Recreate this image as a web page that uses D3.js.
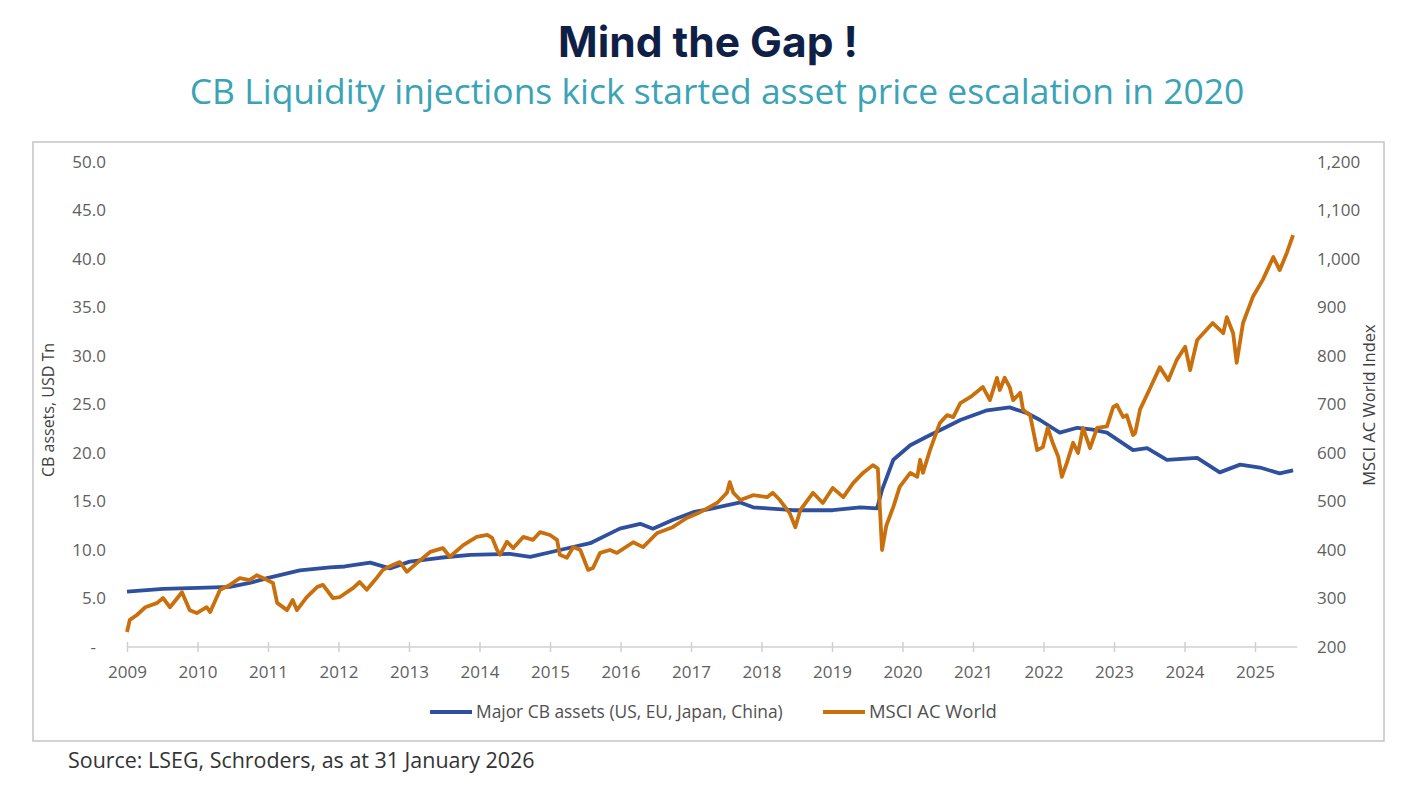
<!DOCTYPE html>
<html>
<head>
<meta charset="utf-8">
<script src="https://cdn.jsdelivr.net/npm/d3@7/dist/d3.min.js"></script>
<style>
  body { margin: 0; background: #fff; }
  svg { display: block; }
</style>
</head>
<body>
<div id="chart"></div>
<script>
// values (time in fractional years)
var cbYears = [2009.00, 2009.51, 2010.01, 2010.46, 2010.74, 2010.99, 2011.45, 2011.88, 2012.09, 2012.45,
	2012.73, 2013.01, 2013.44, 2013.87, 2014.43, 2014.72, 2015.14, 2015.57, 2015.99, 2016.28,
	2016.46, 2016.74, 2017.03, 2017.31, 2017.70, 2017.88, 2018.08, 2018.45, 2019.01, 2019.40,
	2019.64, 2019.71, 2019.87, 2020.11, 2020.35, 2020.63, 2020.82, 2021.20, 2021.52, 2021.77,
	2021.95, 2022.23, 2022.48, 2022.70, 2022.90, 2023.27, 2023.47, 2023.75, 2024.18, 2024.50,
	2024.79, 2025.07, 2025.35, 2025.54];
var cbValues = [5.7, 6.0, 6.1, 6.2, 6.6, 7.1, 7.9, 8.2, 8.3, 8.7,
	8.1, 8.8, 9.2, 9.5, 9.6, 9.3, 10.0, 10.7, 12.2, 12.7,
	12.2, 13.1, 13.9, 14.3, 14.9, 14.4, 14.3, 14.1, 14.1, 14.4,
	14.3, 16.2, 19.3, 20.8, 21.7, 22.7, 23.4, 24.4, 24.7, 24.1,
	23.4, 22.1, 22.6, 22.4, 22.1, 20.3, 20.5, 19.3, 19.5, 18.0,
	18.8, 18.5, 17.9, 18.2];

var msciYears = [2009.00, 2009.04, 2009.14, 2009.26, 2009.43, 2009.51, 2009.61, 2009.78, 2009.89, 2009.99,
	2010.13, 2010.18, 2010.32, 2010.46, 2010.60, 2010.74, 2010.84, 2010.99, 2011.07, 2011.13,
	2011.27, 2011.35, 2011.41, 2011.55, 2011.70, 2011.78, 2011.92, 2012.02, 2012.21, 2012.30,
	2012.40, 2012.55, 2012.63, 2012.77, 2012.87, 2012.97, 2013.11, 2013.30, 2013.48, 2013.58,
	2013.77, 2013.96, 2014.11, 2014.18, 2014.25, 2014.29, 2014.39, 2014.48, 2014.62, 2014.76,
	2014.86, 2015.00, 2015.10, 2015.14, 2015.24, 2015.33, 2015.43, 2015.54, 2015.61, 2015.71,
	2015.85, 2015.95, 2016.18, 2016.32, 2016.52, 2016.74, 2016.94, 2017.13, 2017.37, 2017.51,
	2017.55, 2017.60, 2017.70, 2017.88, 2018.08, 2018.16, 2018.26, 2018.40, 2018.48, 2018.55,
	2018.73, 2018.87, 2019.01, 2019.16, 2019.30, 2019.44, 2019.58, 2019.65, 2019.71, 2019.77,
	2019.87, 2019.96, 2020.11, 2020.21, 2020.25, 2020.29, 2020.39, 2020.53, 2020.63, 2020.72,
	2020.82, 2020.96, 2021.14, 2021.24, 2021.34, 2021.38, 2021.45, 2021.52, 2021.57, 2021.67,
	2021.71, 2021.81, 2021.91, 2021.99, 2022.06, 2022.13, 2022.21, 2022.26, 2022.33, 2022.42,
	2022.49, 2022.56, 2022.66, 2022.76, 2022.90, 2022.99, 2023.04, 2023.13, 2023.18, 2023.27,
	2023.30, 2023.37, 2023.51, 2023.65, 2023.77, 2023.89, 2024.01, 2024.08, 2024.18, 2024.40,
	2024.55, 2024.60, 2024.69, 2024.74, 2024.83, 2024.97, 2025.11, 2025.26, 2025.35, 2025.45,
	2025.54];
var msciValues = [231, 256, 266, 282, 291, 301, 282, 313, 276, 270,
	282, 272, 318, 328, 342, 338, 348, 338, 332, 291,
	276, 297, 276, 303, 324, 328, 301, 303, 322, 334,
	318, 344, 359, 369, 375, 355, 373, 396, 404, 386,
	410, 427, 431, 425, 400, 390, 417, 404, 427, 421,
	437, 431, 421, 390, 384, 406, 400, 359, 363, 394,
	400, 394, 416, 406, 435, 447, 466, 478, 497, 518,
	540, 518, 503, 513, 509, 518, 503, 476, 447, 482,
	518, 497, 528, 509, 538, 559, 575, 568, 400, 450,
	489, 530, 559, 551, 586, 559, 606, 662, 678, 674,
	703, 715, 736, 709, 755, 730, 755, 736, 709, 724,
	689, 678, 606, 612, 652, 621, 592, 551, 579, 621,
	600, 652, 610, 652, 655, 695, 699, 674, 678, 637,
	641, 690, 733, 777, 750, 792, 819, 771, 833, 868,
	847, 880, 847, 786, 868, 922, 957, 1004, 977, 1012,
	1049];

var leftTicks = [0, 5, 10, 15, 20, 25, 30, 35, 40, 45, 50];
var rightTicks = [200, 300, 400, 500, 600, 700, 800, 900, 1000, 1100, 1200];
var yearTicks = [2009, 2010, 2011, 2012, 2013, 2014, 2015, 2016, 2017, 2018, 2019, 2020, 2021, 2022, 2023, 2024, 2025];
var seriesNames = ["Major CB assets (US, EU, Japan, China)", "MSCI AC World"];

var width = 1411,
	height = 786;

var blue = "#2f4f9f",
	orange = "#c96f0c",
	tickColor = "#606060",
	font = "'Open Sans', sans-serif";

var svg = d3.select("#chart").append("svg")
	.attr("width", width)
	.attr("height", height);

svg.append("rect")
	.attr("width", width)
	.attr("height", height)
	.attr("fill", "#fff");

// scale a text node so that it spans a given width
function fitWidth(sel, w) {
	var size = parseFloat(sel.attr("font-size"));
	var len = sel.node().getComputedTextLength();
	sel.attr("font-size", size * w / len);
}

// titles
var title = svg.append("text")
	.attr("x", 708)
	.attr("y", 57)
	.attr("text-anchor", "middle")
	.attr("font-family", "Inter, sans-serif")
	.attr("font-weight", 700)
	.attr("font-size", 34)
	.attr("fill", "#0f1f45")
	.text("Mind the Gap !");
fitWidth(title, 300);

var subtitle = svg.append("text")
	.attr("x", 717)
	.attr("y", 104)
	.attr("text-anchor", "middle")
	.attr("font-family", font)
	.attr("font-size", 32)
	.attr("fill", "#3aa3b5")
	.text("CB Liquidity injections kick started asset price escalation in 2020");
fitWidth(subtitle, 1055);

// chart frame
svg.append("rect")
	.attr("x", 33)
	.attr("y", 142)
	.attr("width", 1351)
	.attr("height", 599)
	.attr("fill", "#fff")
	.attr("stroke", "#c4c4c4")
	.attr("stroke-width", 1.5);

var x = d3.scaleLinear().domain([2009, 2025]).range([127, 1255]);
var yLeft = d3.scaleLinear().domain([0, 50]).range([647, 162]);
var yRight = d3.scaleLinear().domain([200, 1200]).range([647, 162]);

// left axis
var leftAxis = svg.append("g")
	.attr("transform", "translate(106,0)")
	.call(d3.axisLeft(yLeft)
		.tickValues(leftTicks)
		.tickSize(0)
		.tickPadding(0)
		.tickFormat(function(d) { return d === 0 ? "-" : d3.format(".1f")(d); }));
leftAxis.select(".domain").remove();
leftAxis.selectAll(".tick text")
	.filter(function(d) { return d === 0; })
	.attr("dx", -10);

// right axis
var rightAxis = svg.append("g")
	.attr("transform", "translate(1317,0)")
	.call(d3.axisRight(yRight)
		.tickValues(rightTicks)
		.tickSize(0)
		.tickPadding(0)
		.tickFormat(d3.format(",")));
rightAxis.select(".domain").remove();

// x axis
var xAxis = svg.append("g")
	.attr("transform", "translate(0,647)")
	.call(d3.axisBottom(x)
		.tickValues(yearTicks)
		.tickSizeInner(5)
		.tickSizeOuter(0)
		.tickPadding(14)
		.tickFormat(d3.format("d")));
xAxis.select(".domain")
	.attr("d", "M" + x(2009) + ",0H" + x(2025.6))
	.attr("stroke", "#d0d0d0")
	.attr("stroke-width", 1.5);
xAxis.selectAll(".tick line")
	.attr("y1", -5)
	.attr("stroke", "#d0d0d0")
	.attr("stroke-width", 1.5);

svg.selectAll(".tick text")
	.attr("font-family", font)
	.attr("font-size", 17)
	.attr("fill", tickColor);

// axis titles
svg.append("text")
	.attr("transform", "translate(54,410) rotate(-90)")
	.attr("text-anchor", "middle")
	.attr("font-family", font)
	.attr("font-size", 16)
	.attr("fill", "#404040")
	.text("CB assets, USD Tn");

svg.append("text")
	.attr("transform", "translate(1375,405) rotate(-90)")
	.attr("text-anchor", "middle")
	.attr("font-family", font)
	.attr("font-size", 16.5)
	.attr("fill", "#404040")
	.text("MSCI AC World Index");

// lines
var cbLine = d3.line()
	.x(function(d, i) { return x(cbYears[i]); })
	.y(function(d) { return yLeft(d); });

var msciLine = d3.line()
	.x(function(d, i) { return x(msciYears[i]); })
	.y(function(d) { return yRight(d); });

svg.append("path")
	.datum(cbValues)
	.attr("d", cbLine)
	.attr("fill", "none")
	.attr("stroke", blue)
	.attr("stroke-width", 3.8)
	.attr("stroke-linejoin", "round");

svg.append("path")
	.datum(msciValues)
	.attr("d", msciLine)
	.attr("fill", "none")
	.attr("stroke", orange)
	.attr("stroke-width", 3.8)
	.attr("stroke-linejoin", "round");

// legend
var legendWidths = [307, 128];
var legend = svg.append("g")
	.selectAll("g")
	.data(seriesNames)
	.enter().append("g")
	.attr("transform", function(d, i) { return "translate(" + [430, 823][i] + ",712)"; });

legend.append("line")
	.attr("x1", 0)
	.attr("x2", 42)
	.attr("stroke", function(d, i) { return [blue, orange][i]; })
	.attr("stroke-width", 3.8);

legend.append("text")
	.attr("x", 46)
	.attr("dy", "0.35em")
	.attr("font-family", font)
	.attr("font-size", 16)
	.attr("fill", "#505050")
	.text(function(d) { return d; })
	.each(function(d, i) { fitWidth(d3.select(this), legendWidths[i]); });

// source
var source = svg.append("text")
	.attr("x", 68)
	.attr("y", 768)
	.attr("font-family", font)
	.attr("font-size", 19)
	.attr("fill", "#333")
	.text("Source: LSEG, Schroders, as at 31 January 2026");
fitWidth(source, 467);
</script>
</body>
</html>
